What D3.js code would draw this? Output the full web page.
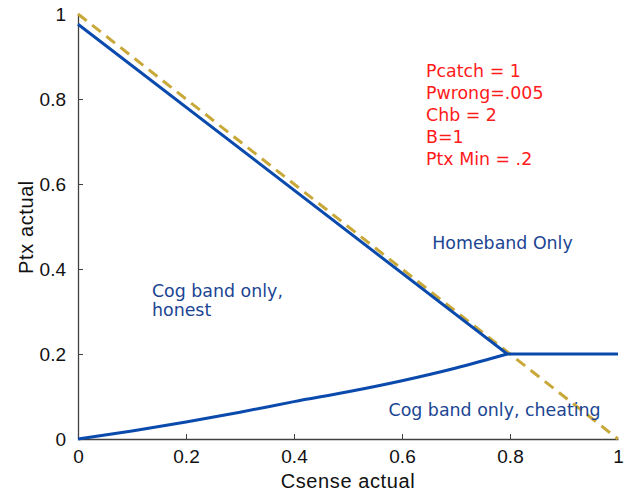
<!DOCTYPE html>
<html><head><meta charset="utf-8">
<script src="https://cdn.jsdelivr.net/npm/d3@7/dist/d3.min.js"></script>
<style>body{margin:0;background:#fff}svg{display:block}</style>
</head><body><svg id="c" width="629" height="493"></svg>
<script>
const xTicks = [0, 0.2, 0.4, 0.6, 0.8, 1];
const xTickLabels = ["0", "0.2", "0.4", "0.6", "0.8", "1"];
const yTicks = [0, 0.2, 0.4, 0.6, 0.8, 1];
const yTickLabels = ["0", "0.2", "0.4", "0.6", "0.8", "1"];
// upper boundary (honest / homeband)
const upperX = [0, 0.795, 1];
const upperY = [0.976, 0.2, 0.2];
// lower boundary (cheating)
const lowerX = [0, 0.1, 0.2, 0.3, 0.4, 0.5, 0.6, 0.7, 0.795];
const lowerY = [0, 0.019, 0.040, 0.063, 0.088, 0.111, 0.137, 0.167, 0.2];
// dashed reference line
const refX = [0, 1];
const refY = [1, 0];
const params = ["Pcatch = 1", "Pwrong=.005", "Chb = 2", "B=1", "Ptx Min = .2"];
const regionLabels = [
  {lines: ["Cog band only,", "honest"], x: 0.137, y: 0.335},
  {lines: ["Homeband Only"], x: 0.656, y: 0.448},
  {lines: ["Cog band only, cheating"], x: 0.575, y: 0.054}
];

const svg = d3.select("#c");
const x = d3.scaleLinear().domain([0, 1]).range([78, 618]);
const y = d3.scaleLinear().domain([0, 1]).range([439, 14]);
const axisColor = "#404040";
const tickFont = "Liberation Sans, Arial, Helvetica, sans-serif";

const gx = svg.append("g").attr("transform", `translate(0,${y(0)})`)
  .call(d3.axisBottom(x).tickValues(xTicks).tickFormat((d,i)=>xTickLabels[i]).tickSizeInner(-5).tickSizeOuter(0).tickPadding(11));
const gy = svg.append("g").attr("transform", `translate(${x(0)},0)`)
  .call(d3.axisLeft(y).tickValues(yTicks).tickFormat((d,i)=>yTickLabels[i]).tickSizeInner(-5).tickSizeOuter(0).tickPadding(12));
[gx, gy].forEach(g => {
  g.select(".domain").attr("stroke", axisColor).attr("stroke-width", 1.3);
  g.selectAll(".tick line").attr("stroke", axisColor);
  g.selectAll(".tick text").attr("fill", "#111").attr("font-size", 19).attr("font-family", tickFont);
});
gx.selectAll(".tick").filter(d => d === 1 || d === 0).select("line").remove();
gy.selectAll(".tick").filter(d => d === 1 || d === 0).select("line").remove();

const line = d3.line().x(d => x(d[0])).y(d => y(d[1]));
svg.append("path").datum(refX.map((v,i)=>[v, refY[i]]))
  .attr("d", line).attr("fill", "none").attr("stroke", "#c9a83a")
  .attr("stroke-width", 3).attr("stroke-dasharray", "11,7");
svg.append("path").datum(upperX.map((v,i)=>[v, upperY[i]]))
  .attr("d", line).attr("fill", "none").attr("stroke", "#0a4aad").attr("stroke-width", 3);
svg.append("path").datum(lowerX.map((v,i)=>[v, lowerY[i]]))
  .attr("d", d3.line().x(d => x(d[0])).y(d => y(d[1])).curve(d3.curveMonotoneX))
  .attr("fill", "none").attr("stroke", "#0a4aad").attr("stroke-width", 3);

const labelFont = "DejaVu Sans, Verdana, sans-serif";
regionLabels.forEach(r => {
  const t = svg.append("text").attr("x", x(r.x)).attr("y", y(r.y))
    .attr("fill", "#1b4593").attr("font-size", 17.4).attr("font-family", labelFont);
  r.lines.forEach((s, i) => t.append("tspan").attr("x", x(r.x)).attr("dy", i ? 19 : 0).text(s));
});

const pt = svg.append("text").attr("x", 426).attr("y", 77)
  .attr("fill", "#ff1a1a").attr("font-size", 17.4).attr("font-family", labelFont);
params.forEach((s, i) => pt.append("tspan").attr("x", 426).attr("dy", i ? 22 : 0).text(s));

svg.append("text").attr("x", 348).attr("y", 488).attr("text-anchor", "middle")
  .attr("font-size", 20).attr("letter-spacing", 0.6).attr("font-family", tickFont).attr("fill", "#111").text("Csense actual");
svg.append("text").attr("transform", "translate(33,227) rotate(-90)").attr("text-anchor", "middle")
  .attr("font-size", 20).attr("letter-spacing", 0.6).attr("font-family", tickFont).attr("fill", "#111").text("Ptx actual");
</script></body></html>
